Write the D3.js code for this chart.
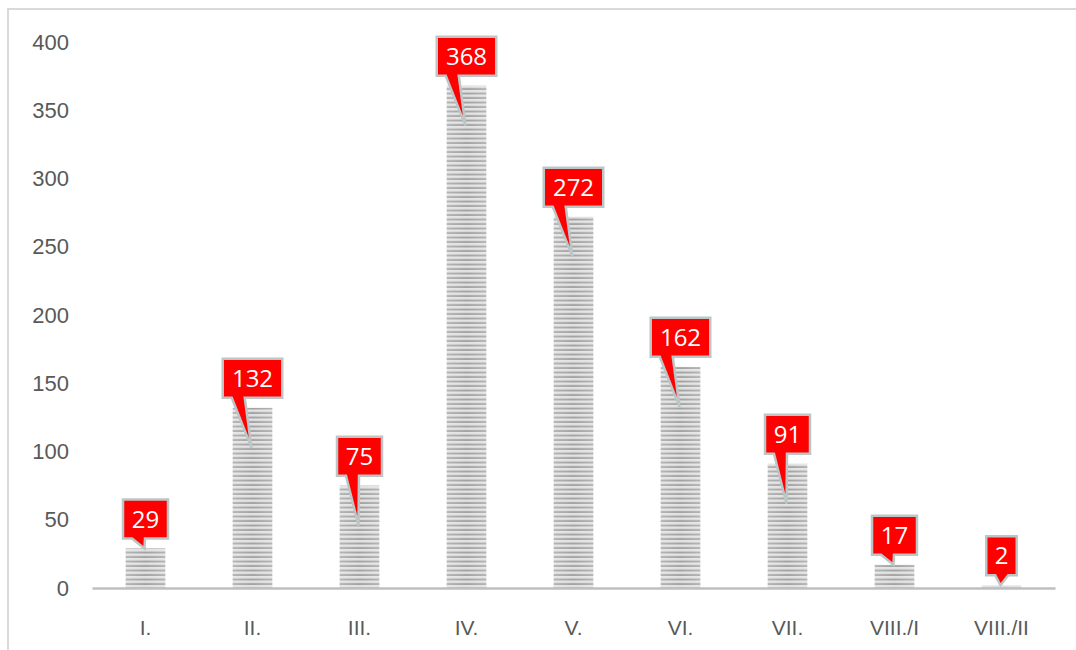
<!DOCTYPE html>
<html>
<head>
<meta charset="utf-8">
<script src="https://cdnjs.cloudflare.com/ajax/libs/d3/7.8.5/d3.min.js"></script>
<style>
  body { margin: 0; background: #fff; }
  svg { display: block; font-family: "Open Sans", "Noto Sans", sans-serif; }
</style>
</head>
<body>
<div class="chart"></div>
<script>
// Data
const categories = ["I.", "II.", "III.", "IV.", "V.", "VI.", "VII.", "VIII./I", "VIII./II"];
const values = [29, 132, 75, 368, 272, 162, 91, 17, 2];
const yTicks = [0, 50, 100, 150, 200, 250, 300, 350, 400];

const data = categories.map((c, i) => ({ cat: c, val: values[i] }));

const W = 1076, H = 650;
const svg = d3.select(".chart").append("svg")
    .attr("width", W)
    .attr("height", H);

// striped fill for bars
const defs = svg.append("defs");
const pat = defs.append("pattern")
    .attr("id", "stripes")
    .attr("patternUnits", "userSpaceOnUse")
    .attr("width", 10)
    .attr("height", 4.5);
pat.append("rect").attr("width", 10).attr("height", 4.5).attr("fill", "#e2e2e2");
pat.append("rect").attr("y", 2.5).attr("width", 10).attr("height", 2).attr("fill", "#a2a2a2");

const shade = defs.append("linearGradient")
    .attr("id", "shade")
    .attr("x1", "0%").attr("x2", "100%");
shade.append("stop").attr("offset", "0%").attr("stop-color", "#fff").attr("stop-opacity", 0.2);
shade.append("stop").attr("offset", "50%").attr("stop-color", "#fff").attr("stop-opacity", 0);
shade.append("stop").attr("offset", "100%").attr("stop-color", "#fff").attr("stop-opacity", 0.2);

// outer frame (runs off the right and bottom)
svg.append("rect")
    .attr("x", 8).attr("y", 9)
    .attr("width", W + 20).attr("height", H + 20)
    .attr("fill", "none")
    .attr("stroke", "#d9d9d9")
    .attr("stroke-width", 2);

const x = d3.scaleBand()
    .domain(categories)
    .range([92, 1055])
    .paddingInner(0.63)
    .paddingOuter(0.315);

const y = d3.scaleLinear()
    .domain([0, 400])
    .range([588, 42]);

// y axis labels (no line, no ticks)
const yAxis = svg.append("g")
    .attr("transform", "translate(69,0)")
    .call(d3.axisLeft(y).tickValues(yTicks).tickSize(0).tickPadding(0));
yAxis.select(".domain").remove();
yAxis.selectAll("text")
    .attr("fill", "#595959")
    .style("font-size", "22px");

// bars
svg.selectAll(".bar")
    .data(data)
    .enter().append("rect")
    .attr("class", "bar")
    .attr("x", d => x(d.cat))
    .attr("y", d => y(d.val))
    .attr("width", x.bandwidth())
    .attr("height", d => y(0) - y(d.val))
    .attr("fill", "url(#stripes)");

svg.selectAll(".barshade")
    .data(data)
    .enter().append("rect")
    .attr("class", "barshade")
    .attr("x", d => x(d.cat))
    .attr("y", d => y(d.val))
    .attr("width", x.bandwidth())
    .attr("height", d => y(0) - y(d.val))
    .attr("fill", "url(#shade)");

// x axis
const xAxis = svg.append("g")
    .attr("transform", `translate(0,${y(0)})`)
    .call(d3.axisBottom(x).tickSize(0).tickPadding(32));
xAxis.select(".domain")
    .attr("stroke", "#bfbfbf")
    .attr("stroke-width", 2.5);
xAxis.selectAll("text")
    .attr("fill", "#595959")
    .style("font-size", "21px");

// callout labels
const boxH = 39, gap = 10;
const callouts = svg.selectAll(".callout")
    .data(data)
    .enter().append("g")
    .attr("class", "callout");

callouts.each(function(d) {
    const g = d3.select(this);
    const cx = x(d.cat) + x.bandwidth() / 2;
    const top = y(d.val);
    const barH = y(0) - top;
    const w = 16 + String(d.val).length * 14.5;
    const bx = cx - w / 2;
    const by = top - gap - boxH;
    const tipY = barH > 60 ? top + 40 : top;
    const tipX = cx - 1;
    const p0 = bx + 9, p1 = bx + 22;
    const path = `M${bx},${by} H${bx + w} V${by + boxH} H${p1} L${tipX},${tipY} L${p0},${by + boxH} H${bx} Z`;
    g.append("path")
        .attr("d", path)
        .attr("fill", "#ff0000")
        .attr("stroke", "#bcc6c6")
        .attr("stroke-width", 2.5)
        .attr("stroke-linejoin", "miter");
    g.append("text")
        .attr("x", cx)
        .attr("y", by + boxH / 2)
        .attr("dy", "0.36em")
        .attr("text-anchor", "middle")
        .attr("fill", "#fff")
        .style("font-size", "24px")
        .text(d.val);
});
</script>
</body>
</html>
